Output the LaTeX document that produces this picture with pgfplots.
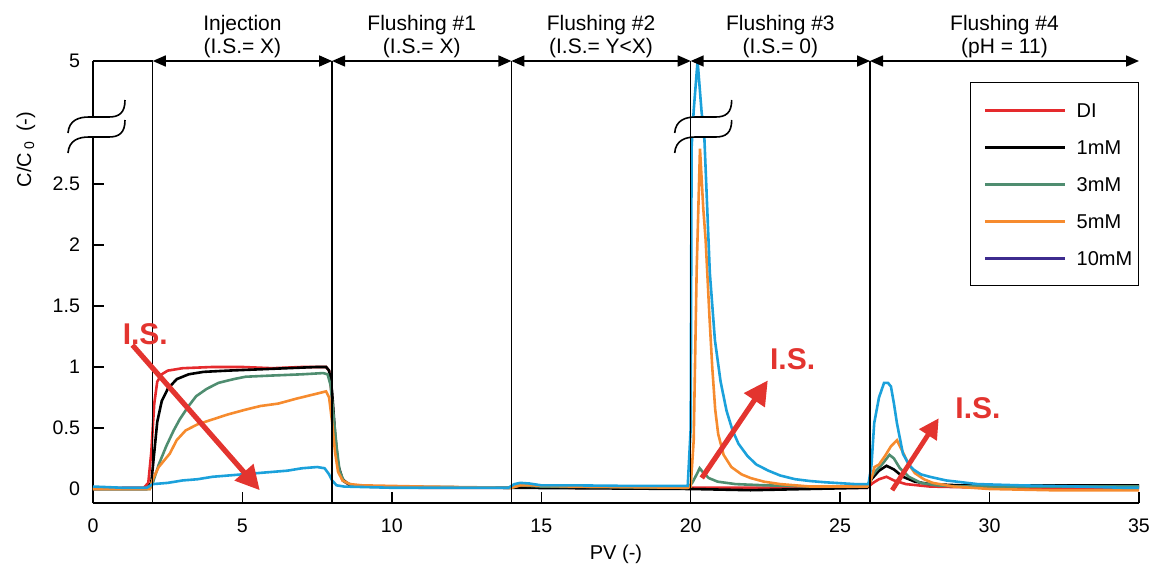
\documentclass[border=0pt]{standalone}
\usepackage{fontspec}
\setmainfont{Liberation Sans}
\usepackage{pgfplots}
\pgfplotsset{compat=1.18}
\usepackage{pgfplotstable}
\usetikzlibrary{arrows.meta}
\definecolor{cDI}{HTML}{E52A2D}
\definecolor{cGreen}{HTML}{4F8D70}
\definecolor{cOrange}{HTML}{F68B2E}
\definecolor{cBlue}{HTML}{1BA1DB}
\definecolor{cPurple}{HTML}{3D2B8E}
\definecolor{cIS}{HTML}{E3342F}

\pgfplotstableread{
x y
0 0.0
1.0 0.01
1.7 0.01
1.85 0.05
1.95 0.3
2.05 0.7
2.15 0.88
2.3 0.94
2.5 0.97
3.0 0.99
4.0 1.0
5.0 1.0
6.0 0.99
7.0 1.0
7.8 1.0
7.9 0.97
8.0 0.75
8.1 0.4
8.2 0.18
8.35 0.07
8.6 0.03
9.0 0.02
11 0.01
14 0.01
14.3 0.02
16 0.01
19.9 0.01
20.2 0.01
22 0.01
25.9 0.01
26.1 0.05
26.3 0.08
26.55 0.1
26.8 0.07
27.2 0.04
27.6 0.03
28 0.02
30 0.01
35 0.01
}\tDI

\pgfplotstableread{
x y
0 0.0
1.8 0.0
1.95 0.05
2.05 0.3
2.15 0.55
2.3 0.72
2.5 0.82
2.8 0.9
3.2 0.94
3.7 0.96
4.5 0.97
5.5 0.98
6.5 0.99
7.5 1.0
7.8 1.0
7.9 0.97
8.0 0.8
8.1 0.45
8.2 0.2
8.35 0.08
8.6 0.03
9.0 0.02
14 0.01
20 0.0
22 -0.01
25.9 0.01
26.05 0.08
26.3 0.15
26.55 0.19
26.8 0.16
27.1 0.1
27.5 0.06
28 0.04
29 0.03
32 0.03
35 0.03
}\tOne

\pgfplotstableread{
x y
0 0.0
1.9 0.0
2.0 0.05
2.2 0.2
2.45 0.35
2.7 0.48
2.9 0.57
3.2 0.68
3.45 0.76
3.8 0.82
4.2 0.87
4.7 0.9
5.1 0.92
6.0 0.93
7.0 0.94
7.7 0.95
7.85 0.94
7.95 0.85
8.05 0.6
8.15 0.35
8.25 0.15
8.4 0.06
8.7 0.03
9.0 0.02
14 0.01
14.3 0.03
15 0.02
19.9 0.01
20.05 0.05
20.2 0.12
20.3 0.17
20.4 0.14
20.6 0.09
20.9 0.06
21.5 0.04
22.5 0.03
24 0.02
25.9 0.02
26.05 0.1
26.2 0.15
26.4 0.2
26.65 0.28
26.8 0.25
27.0 0.17
27.3 0.1
27.7 0.05
28.2 0.03
29 0.02
35 0.02
}\tThree

\pgfplotstableread{
x y
0 0.0
1.9 0.0
2.0 0.08
2.2 0.18
2.57 0.29
2.8 0.4
3.1 0.48
3.5 0.53
4.0 0.57
4.5 0.61
5.1 0.65
5.6 0.68
6.2 0.70
6.8 0.74
7.3 0.77
7.8 0.80
7.9 0.75
8.0 0.55
8.1 0.3
8.2 0.14
8.35 0.07
8.6 0.04
9.0 0.03
11 0.02
14 0.01
14.3 0.03
14.6 0.03
16 0.02
19.9 0.01
20.0 0.02
20.1 0.4
20.2 1.8
20.31 2.79
20.42 2.3
20.5 2.04
20.63 1.4
20.72 1.0
20.82 0.65
20.92 0.45
21.1 0.28
21.36 0.18
21.7 0.12
22.0 0.09
22.45 0.06
23 0.04
24 0.02
25.9 0.02
26.0 0.05
26.15 0.18
26.3 0.2
26.5 0.27
26.7 0.35
26.9 0.4
27.1 0.3
27.3 0.2
27.5 0.13
27.8 0.08
28.1 0.05
28.8 0.02
30 0.0
32 -0.01
35 -0.01
}\tFive

\pgfplotstableread{
x y
0 0.02
1.0 0.01
1.8 0.01
2.0 0.04
2.5 0.05
3.0 0.07
3.5 0.08
4.0 0.1
4.5 0.11
5.0 0.12
5.5 0.13
6.0 0.14
6.5 0.15
7.0 0.17
7.5 0.18
7.75 0.17
7.9 0.12
8.0 0.07
8.15 0.03
8.4 0.02
10 0.01
13.9 0.01
14.1 0.04
14.3 0.05
14.6 0.045
15 0.03
16 0.03
18 0.025
19.9 0.025
20.0 0.5
20.03 2.8
20.1 3.6
20.23 5.0
20.36 3.6
20.46 2.86
20.64 1.77
20.81 1.22
21.0 0.88
21.2 0.64
21.4 0.48
21.6 0.37
21.9 0.27
22.2 0.2
22.6 0.15
23.0 0.11
23.5 0.08
24.0 0.065
24.5 0.055
25.5 0.04
25.95 0.04
26.05 0.2
26.14 0.54
26.3 0.75
26.47 0.87
26.6 0.87
26.7 0.84
26.8 0.7
26.9 0.54
27.1 0.29
27.3 0.2
27.45 0.16
27.7 0.12
28.0 0.10
28.55 0.07
29.6 0.04
31 0.03
33 0.02
34.5 0.01
35 0.01
}\tTen

\tikzset{
  arr/.style={line width=0.8pt, {Triangle[length=6.5pt,width=5.5pt]}-{Triangle[length=6.5pt,width=5.5pt]}},
  sep/.style={line width=0.7pt},
  phase/.style={anchor=south, align=center, inner sep=0pt, yshift=1.5pt, font=\fontsize{10.5}{11.5}\selectfont},
  islab/.style={cIS, font=\fontsize{15}{18}\selectfont\bfseries},
}

\begin{document}
\begin{tikzpicture}
\begin{axis}[
  name=ax,
  scale only axis,
  width=523pt, height=221pt,
  xmin=0, xmax=35,
  ymin=-0.115, ymax=5,
  y coord trafo/.code={\pgfmathparse{#1>2.9 ? 2.9+(#1-2.9)*0.2895 : #1}},
  y coord inv trafo/.code={\pgfmathparse{#1>2.9 ? 2.9+(#1-2.9)/0.2895 : #1}},
  axis x line*=bottom,
  axis y line*=left,
  axis line style={line width=0.7pt},
  tick align=inside,
  major tick length=5.5pt,
  tick style={line width=0.7pt, black},
  xtick={0,5,10,15,20,25,30,35},
  xticklabels={0,5,10,15,20,25,30,35},
  ytick={0,0.5,1,1.5,2,2.5,5},
  yticklabels={0,0.5,1,1.5,2,2.5,5},
  xticklabel style={yshift=-4.5pt},
  yticklabel style={xshift=-3pt},
  tick label style={font=\fontsize{9.8}{11}\selectfont},
  label style={font=\fontsize{10.3}{12}\selectfont},
  xlabel={PV (-)},
  ylabel={C/C\,\textsubscript{0}\, (-)},
  every axis x label/.style={at={(axis description cs:0.5,-0.115)},anchor=center},
  every axis y label/.style={at={(axis description cs:-0.0642,0.80)},rotate=90,anchor=center},
  clip=false,
  legend style={at={(axis description cs:1.0,0.9525)}, anchor=north east,
    draw=black, line width=0.7pt, inner xsep=3pt, inner ysep=10pt,
    row sep=11pt, column sep=5pt,
    font=\fontsize{10}{12}\selectfont,
    nodes={inner sep=0pt, text height=7.5pt, text depth=0pt}},
  legend cell align=left,
  legend image code/.code={\path (0pt,0pt); \draw[#1,line width=1.5pt] (4pt,0pt) -- (44pt,0pt);},
]
\addplot[cDI, line width=1.3pt, forget plot] table {\tDI};
\addplot[black, line width=1.3pt, forget plot] table {\tOne};
\addplot[cGreen, line width=1.3pt, forget plot] table {\tThree};
\addplot[cOrange, line width=1.3pt, forget plot] table {\tFive};
\addplot[cBlue, line width=1.3pt, forget plot] table {\tTen};

\addlegendimage{cDI}\addlegendentry{DI}
\addlegendimage{black}\addlegendentry{1mM}
\addlegendimage{cGreen}\addlegendentry{3mM}
\addlegendimage{cOrange}\addlegendentry{5mM}
\addlegendimage{cPurple}\addlegendentry{10mM}

% phase separators
\draw[sep] (axis description cs:0.05714,0) -- (axis description cs:0.05714,1);
\draw[sep] (axis description cs:0.22857,0) -- (axis description cs:0.22857,1);
\draw[sep] (axis description cs:0.4,0) -- (axis description cs:0.4,1);
\draw[sep] (axis description cs:0.57143,0) -- (axis description cs:0.57143,1);
\draw[sep] (axis description cs:0.74286,0) -- (axis description cs:0.74286,1);
\draw[sep] (axis description cs:0,1) -- (axis description cs:0.05714,1);
\draw[arr] (axis description cs:0.05714,1) -- (axis description cs:0.22857,1);
\draw[arr] (axis description cs:0.22857,1) -- (axis description cs:0.4,1);
\draw[arr] (axis description cs:0.4,1) -- (axis description cs:0.57143,1);
\draw[arr] (axis description cs:0.57143,1) -- (axis description cs:0.74286,1);
\draw[arr] (axis description cs:0.74286,1) -- (axis description cs:1.0,1);

\node[phase] at (axis description cs:0.142857,1) {Injection\\(I.S.= X)};
\node[phase] at (axis description cs:0.314286,1) {Flushing \#1\\(I.S.= X)};
\node[phase] at (axis description cs:0.485714,1) {Flushing \#2\\(I.S.= Y<X)};
\node[phase] at (axis description cs:0.657143,1) {Flushing \#3\\(I.S.= 0)};
\node[phase] at (axis description cs:0.871429,1) {Flushing \#4\\(pH = 11)};

% I.S. arrows
\draw[cIS, line width=2.6pt, -{Triangle[length=12pt,width=12pt]}] (axis cs:1.32,1.18) -- (axis cs:5.58,-0.01);
\draw[cIS, line width=2.6pt, -{Triangle[length=12pt,width=12pt]}] (axis cs:20.37,0.09) -- (axis cs:22.58,0.89);
\draw[cIS, line width=2.4pt, -{Triangle[length=10pt,width=10pt]}] (axis cs:26.74,-0.01) -- (axis cs:28.3,0.58);
\node[islab] at (axis cs:1.75,1.27) {I.S.};
\node[islab] at (axis cs:23.41,1.06) {I.S.};
\node[islab] at (axis cs:29.61,0.66) {I.S.};

\coordinate (b1) at (axis description cs:0,0.8733);
\coordinate (b2) at (axis description cs:0.58,0.8733);
\coordinate (v20b) at (axis description cs:0.57143,0);
\coordinate (v20t) at (axis description cs:0.57143,1);
\end{axis}

\tikzset{brk/.pic={
  \fill[white] (-12.5pt,-8pt) .. controls (-12pt,-1.5pt) and (-7pt,0pt) .. (-2pt,0pt) -- (8pt,0pt) .. controls (13pt,0pt) and (16pt,2pt) .. (16pt,8.5pt) -- (16pt,-1.5pt) .. controls (16pt,-8pt) and (13pt,-10pt) .. (8pt,-10pt) -- (-2pt,-10pt) .. controls (-7pt,-10pt) and (-12pt,-11.5pt) .. (-12.5pt,-18pt) -- cycle;
  \draw[line width=0.8pt] (-12.5pt,-8pt) .. controls (-12pt,-1.5pt) and (-7pt,0pt) .. (-2pt,0pt) -- (8pt,0pt) .. controls (13pt,0pt) and (16pt,2pt) .. (16pt,8.5pt);
  \draw[line width=0.8pt] (-12.5pt,-18pt) .. controls (-12pt,-11.5pt) and (-7pt,-10pt) .. (-2pt,-10pt) -- (8pt,-10pt) .. controls (13pt,-10pt) and (16pt,-8pt) .. (16pt,-1.5pt);
}}
\pic at (b1) {brk};
\pic at (b2) {brk};
\draw[line width=0.7pt] (v20b) -- (v20t);

\pgfresetboundingbox
\path[use as bounding box] ([xshift=-46.5pt,yshift=-34.5pt]ax.south west) rectangle ([xshift=6.5pt,yshift=30.5pt]ax.north east);
\end{tikzpicture}
\end{document}
